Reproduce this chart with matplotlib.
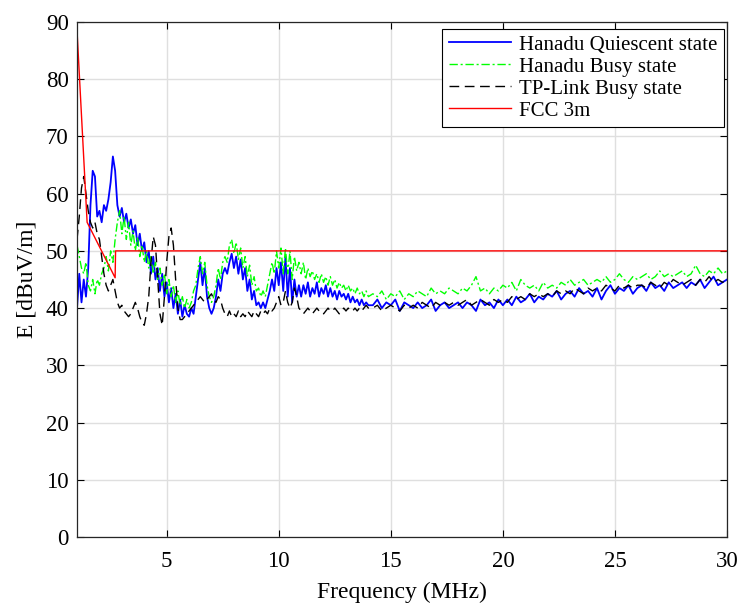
import matplotlib
matplotlib.use("Agg")
import matplotlib.pyplot as plt
import numpy as np

plt.rcParams['font.family'] = ['Liberation Serif', 'DejaVu Serif']

# frequency grid (MHz): fine below 14 MHz, coarser above
freq_head = np.round(np.arange(1.0, 14.05, 0.1), 1)
freq_tail = np.round(np.arange(14.2, 30.01, 0.2), 1)
freq = np.concatenate([freq_head, freq_tail])

# Hanadu Quiescent state [dBuV/m]
quiescent = [
    40, 46, 41, 45, 42, 47, 58, 64, 63, 56,
    57, 55, 58, 57, 59, 62, 66.5, 64, 58, 56,
    57.5, 55, 56.5, 54, 55.5, 53, 54.5, 51, 53, 50,
    51.5, 48, 50, 46, 49, 45, 47, 43, 46, 42,
    44.5, 41, 43.5, 40, 42.5, 39, 41.5, 38.5, 40.5, 39,
    38.5, 40, 39, 42, 45, 48, 44, 47, 42, 40,
    39, 40, 42, 45, 43, 46, 47, 46, 48, 49.5,
    47, 49, 46, 48.5, 45, 47, 43, 45, 41.5, 43,
    40.5, 41, 40, 41, 40, 41.5, 43, 45, 43, 47,
    44, 48, 43, 49, 42, 47, 41, 45, 42, 44,
    42, 44, 42.5, 44.5, 42, 43.5, 42.5, 44.5, 42, 43.5,
    42.5, 44, 42, 43.5, 42, 43, 41.5, 43, 42, 42.5,
    41.5, 42.5, 41, 42, 41, 41.5, 40.5, 41.5, 40.5, 41,
    40.5,
    40.5, 41.5, 40, 41, 40.5, 41.5, 39.5, 41, 40.5, 40,
    41, 40, 40.5, 41.5, 39.5, 40.5, 41, 40, 40.5, 41,
    40, 41, 40.5, 39.5, 41.5, 40.5, 41, 40, 41.5, 40.5,
    41.5, 40.5, 42, 41, 41.5, 42.5, 41, 42, 41.5, 42.5,
    42, 43, 41.5, 42.5, 43, 42, 43.5, 42.5, 43, 42,
    43.5, 41.5, 43, 44, 42.5, 43.5, 43, 44, 42.5, 43.5,
    44, 43, 44.5, 43.5, 44, 43, 44.5, 43.5, 44, 44.5,
    43.5, 44.5, 44, 45, 43.5, 44.5, 45.5, 44, 44.5, 45,
]

# Hanadu Busy state [dBuV/m]
busy = [
    51, 49, 47, 46, 48, 44, 43, 45, 42.5, 45,
    44, 46, 47, 49, 46.5, 50, 48, 52, 55, 57,
    53, 56, 52, 55, 51, 53.5, 50, 52.5, 49, 51,
    48, 50, 47, 49, 46, 48, 45, 47, 44, 46,
    42.5, 45, 42, 44, 41, 43, 40.5, 42, 40, 41.5,
    40, 41, 43, 44, 47, 49, 46, 48, 44, 42,
    41, 42, 44, 47, 45, 48, 49, 48, 51, 52,
    49.5, 51.5, 48.5, 50.5, 47, 49, 45.5, 47.5, 44, 45.5,
    43, 43.5, 42, 43, 42, 44, 46, 48, 46, 50,
    47, 50.5, 46, 50.5, 46, 50, 45, 49, 46.5, 48,
    46, 48, 45, 47, 45.5, 46.5, 45, 46, 44.5, 46,
    44.5, 45.5, 44, 45.5, 44, 45, 43.5, 44.5, 43.5, 44,
    43, 44, 43, 43.5, 42.5, 43.5, 42.5, 43, 42, 43,
    42,
    42.5, 42, 43, 41.5, 42.5, 42, 43, 41.5, 42.5, 42,
    43, 42.5, 42, 43.5, 42.5, 43, 42.5, 43.5, 43, 42.5,
    43.5, 43, 44, 45.5, 43, 43.5, 42.5, 43.5, 43, 44,
    43.5, 44.5, 43, 45, 44, 43.5, 44, 43, 44.5, 43.5,
    44, 43.5, 44.5, 44, 45, 44, 44.5, 45, 44, 44.5,
    45, 44.5, 45.5, 44.5, 45, 46, 45, 44.5, 45.5, 45,
    45.5, 46, 45, 45.5, 46.5, 45.5, 46, 45.5, 46, 46.5,
    45.5, 46, 47.5, 46, 45.5, 46.5, 46, 47, 46, 46.5,
]

# TP-Link Busy state [dBuV/m]
tplink = [
    52, 56, 61, 63, 60, 57, 55, 54, 55, 53,
    52, 49, 46, 44, 43, 44, 45, 43, 41, 40,
    40.5, 39.5, 39, 38.5, 39, 40, 41, 40, 38.5, 37.5,
    37, 39, 42, 48, 52.5, 51, 45, 39, 37, 42,
    48, 52.5, 54, 51, 45, 40, 38, 38, 38.5, 39,
    39.5, 40, 40.5, 41, 41.5, 42, 41.5, 41, 41.5, 42,
    42.5, 41.5, 41, 42, 41.5, 40, 39, 38.5, 39.5, 38.5,
    39, 38.5, 39.5, 38.5, 39, 38.5, 39.5, 39, 38.5, 39.5,
    39, 38.5, 39.5, 39, 39.5, 39, 40, 39.5, 40, 41,
    42, 40.5, 41, 43, 41, 40, 41, 43.5, 42, 40,
    39.5, 39, 39.5, 40, 39.5, 39, 39.5, 40, 39.5, 39.5,
    39, 39.5, 40, 39.5, 39.5, 40, 39.5, 39, 39.5, 40,
    39.5, 40, 39.5, 39.5, 40, 39.5, 40, 39.5, 40, 40.5,
    40,
    40, 40.5, 39.5, 40, 40.5, 40, 39.5, 40.5, 40, 40.5,
    40, 41, 40.5, 40, 41, 40.5, 41, 40.5, 41, 40.5,
    41, 41.5, 40.5, 41, 41.5, 41, 40.5, 41.5, 41, 41.5,
    41, 42, 41.5, 42, 41.5, 42.5, 42, 42.5, 42, 42.5,
    42, 43, 42.5, 43, 42.5, 43.5, 43, 42.5, 43.5, 43,
    43.5, 43, 44, 43.5, 43, 44, 43.5, 44, 43.5, 44,
    44, 43.5, 44.5, 44, 43.5, 44.5, 44, 45, 44.5, 44,
    44.5, 45, 44, 45, 44.5, 45.5, 44.5, 45, 44.5, 45,
]

# FCC 3m limit
fcc_f = [1.0, 1.45, 2.7, 2.72, 30.0]
fcc_e = [88.5, 55, 45.3, 50, 50]

fig = plt.figure(figsize=(7.42, 6.06), dpi=100)
ax = fig.add_axes([0.1038, 0.1139, 0.876, 0.8498])

ax.plot(freq, quiescent, color='#0000FF', lw=1.3, label='Hanadu Quiescent state')
ax.plot(freq, busy, color='#00FF00', lw=1.0, linestyle=(0, (6, 2, 1.5, 2)),
        label='Hanadu Busy state')
ax.plot(freq, tplink, color='black', lw=1.0, linestyle=(0, (7, 4)),
        label='TP-Link Busy state')
ax.plot(fcc_f, fcc_e, color='#FF0000', lw=1.0, label='FCC 3m')

ax.set_xlim(1, 30)
ax.set_ylim(0, 90)
ax.set_xticks([5, 10, 15, 20, 25, 30])
ax.set_yticks(np.arange(0, 91, 10))
ax.grid(True, color='#dfdfdf', lw=1.0)
ax.set_axisbelow(True)
ax.tick_params(direction='in', top=True, right=True, labelsize=16.5, length=5, width=0.8)
ax.tick_params(axis='x', pad=10)
ax.tick_params(axis='y', pad=6)
for s in ax.spines.values():
    s.set_linewidth(0.9)
    s.set_color('#262626')

ax.set_xlabel('Frequency (MHz)', fontsize=17, labelpad=7)
ax.set_ylabel('E [dBuV/m]', fontsize=17, labelpad=6)

leg = ax.legend(loc='upper right', bbox_to_anchor=(0.9955, 0.987), fontsize=15,
                frameon=True, fancybox=False, framealpha=1, edgecolor='black',
                handlelength=3.0, labelspacing=0.12, borderpad=0.3, handletextpad=0.4,
                borderaxespad=0.0)
leg.get_frame().set_linewidth(0.8)

fig.savefig('out.png', dpi=100)
